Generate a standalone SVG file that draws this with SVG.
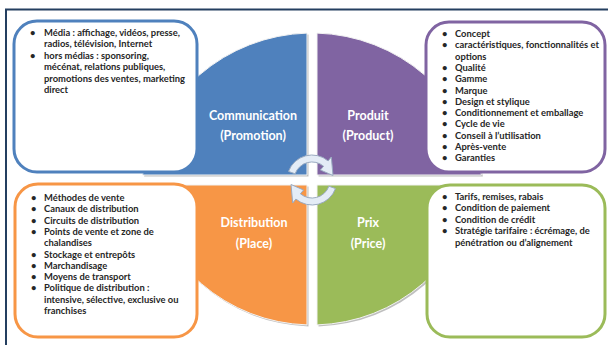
<svg xmlns="http://www.w3.org/2000/svg" width="608" height="345" viewBox="0 0 608 345">
<style>
.t{font-family:Lato,"Liberation Sans",sans-serif;font-weight:bold;font-size:9.4px;fill:#262626}
.q{font-family:Lato,"Liberation Sans",sans-serif;font-weight:bold;font-size:12.5px;fill:#ffffff;text-anchor:middle}
.box{fill:#ffffff;stroke-width:3}
.sh{fill:#bfbfbf}
.arr{fill:#e4ecf6;stroke:#9aaac0;stroke-width:1}
</style>
<defs>
<path id="arrow" d="M288.5,171.4 A25,25 0 0 1 328.1,160.9 L331.3,157.0 L333.0,175.5 L320.4,170.0 L323.6,166.2 A18,18 0 0 0 295.1,173.8 Z"/>
</defs>
<rect x="0" y="0" width="608" height="345" fill="#ffffff"/>
<g id="frame" fill="none" stroke="#243f60" stroke-width="2">
<line x1="5" y1="9.5" x2="608" y2="9.5"/>
<line x1="6" y1="9" x2="6" y2="345"/>
</g>
<g id="quadrants">
<g id="q-communication">
<path class="sh" d="M308.5,176.5 L308.5,34.6 A172,172 0 0 0 144.1,176.5 Z"/>
<path fill="#4f81bd" stroke="#f2f2f2" stroke-width="1" d="M307,175 L307,33.1 A172,172 0 0 0 142.6,175 Z"/>
<text class="q" x="253" y="120">Communication</text>
<text class="q" x="253" y="140">(Promotion)</text>
</g>
<g id="q-produit">
<path class="sh" d="M318.5,176.5 L318.5,34.6 A172,172 0 0 1 482.9,176.5 Z"/>
<path fill="#8064a2" stroke="#f2f2f2" stroke-width="1" d="M317,175 L317,33.1 A172,172 0 0 1 481.4,175 Z"/>
<text class="q" x="368" y="120">Produit</text>
<text class="q" x="368" y="140">(Product)</text>
</g>
<g id="q-distribution">
<path class="sh" d="M308.5,186.5 L308.5,326.4 A169,169 0 0 1 147,186.5 Z"/>
<path fill="#f79646" stroke="#f2f2f2" stroke-width="1" d="M307,185 L307,324.9 A169,169 0 0 1 145.5,185 Z"/>
<text class="q" x="254" y="227">Distribution</text>
<text class="q" x="254" y="248">(Place)</text>
</g>
<g id="q-prix">
<path class="sh" d="M318.5,186.5 L318.5,326.4 A169,169 0 0 0 480,186.5 Z"/>
<path fill="#9bbb59" stroke="#f2f2f2" stroke-width="1" d="M317,185 L317,324.9 A169,169 0 0 0 478.5,185 Z"/>
<text class="q" x="368" y="227">Prix</text>
<text class="q" x="368" y="248">(Price)</text>
</g>
</g>
<g id="connectors">
<use href="#arrow" class="arr"/>
<use href="#arrow" class="arr" transform="rotate(180 312 180)"/>
</g>
<g id="box-communication">
<rect class="box" x="14" y="21" width="183" height="151" rx="23" stroke="#4f81bd"/>
<text class="t" x="30" y="36">•</text><text class="t" x="44" y="36">Média : affichage, vidéos, presse,</text>
<text class="t" x="44" y="47.4">radios, télévision, Internet</text>
<text class="t" x="30" y="58.8">•</text><text class="t" x="44" y="58.8">hors médias : sponsoring,</text>
<text class="t" x="44" y="70.2">mécénat, relations publiques,</text>
<text class="t" x="44" y="81.6">promotions des ventes, marketing</text>
<text class="t" x="44" y="93">direct</text>
</g>
<g id="box-produit">
<rect class="box" x="426" y="22" width="179" height="150" rx="23" stroke="#8064a2"/>
<text class="t" x="442" y="37">•</text><text class="t" x="455" y="37">Concept</text>
<text class="t" x="442" y="48.3">•</text><text class="t" x="455" y="48.3">caractéristiques, fonctionnalités et</text>
<text class="t" x="455" y="59.6">options</text>
<text class="t" x="442" y="70.9">•</text><text class="t" x="455" y="70.9">Qualité</text>
<text class="t" x="442" y="82.2">•</text><text class="t" x="455" y="82.2">Gamme</text>
<text class="t" x="442" y="93.5">•</text><text class="t" x="455" y="93.5">Marque</text>
<text class="t" x="442" y="104.8">•</text><text class="t" x="455" y="104.8">Design et stylique</text>
<text class="t" x="442" y="116.1">•</text><text class="t" x="455" y="116.1">Conditionnement et emballage</text>
<text class="t" x="442" y="127.4">•</text><text class="t" x="455" y="127.4">Cycle de vie</text>
<text class="t" x="442" y="138.7">•</text><text class="t" x="455" y="138.7">Conseil à l’utilisation</text>
<text class="t" x="442" y="150">•</text><text class="t" x="455" y="150">Après-vente</text>
<text class="t" x="442" y="161.3">•</text><text class="t" x="455" y="161.3">Garanties</text>
</g>
<g id="box-distribution">
<rect class="box" x="15" y="184" width="182" height="153" rx="23" stroke="#f79646"/>
<text class="t" x="31" y="201">•</text><text class="t" x="44" y="201">Méthodes de vente</text>
<text class="t" x="31" y="212.3">•</text><text class="t" x="44" y="212.3">Canaux de distribution</text>
<text class="t" x="31" y="223.6">•</text><text class="t" x="44" y="223.6">Circuits de distribution</text>
<text class="t" x="31" y="234.9">•</text><text class="t" x="44" y="234.9">Points de vente et zone de</text>
<text class="t" x="44" y="246.2">chalandises</text>
<text class="t" x="31" y="257.5">•</text><text class="t" x="44" y="257.5">Stockage et entrepôts</text>
<text class="t" x="31" y="268.8">•</text><text class="t" x="44" y="268.8">Marchandisage</text>
<text class="t" x="31" y="280.1">•</text><text class="t" x="44" y="280.1">Moyens de transport</text>
<text class="t" x="31" y="291.4">•</text><text class="t" x="44" y="291.4">Politique de distribution :</text>
<text class="t" x="44" y="302.7">intensive, sélective, exclusive ou</text>
<text class="t" x="44" y="314">franchises</text>
</g>
<g id="box-prix">
<rect class="box" x="427" y="185" width="178" height="152" rx="23" stroke="#9bbb59"/>
<text class="t" x="442" y="200">•</text><text class="t" x="455" y="200">Tarifs, remises, rabais</text>
<text class="t" x="442" y="211.4">•</text><text class="t" x="455" y="211.4">Condition de paiement</text>
<text class="t" x="442" y="222.8">•</text><text class="t" x="455" y="222.8">Condition de crédit</text>
<text class="t" x="442" y="234.2">•</text><text class="t" x="455" y="234.2">Stratégie tarifaire : écrémage, de</text>
<text class="t" x="455" y="245.6">pénétration ou d’alignement</text>
</g>
</svg>
